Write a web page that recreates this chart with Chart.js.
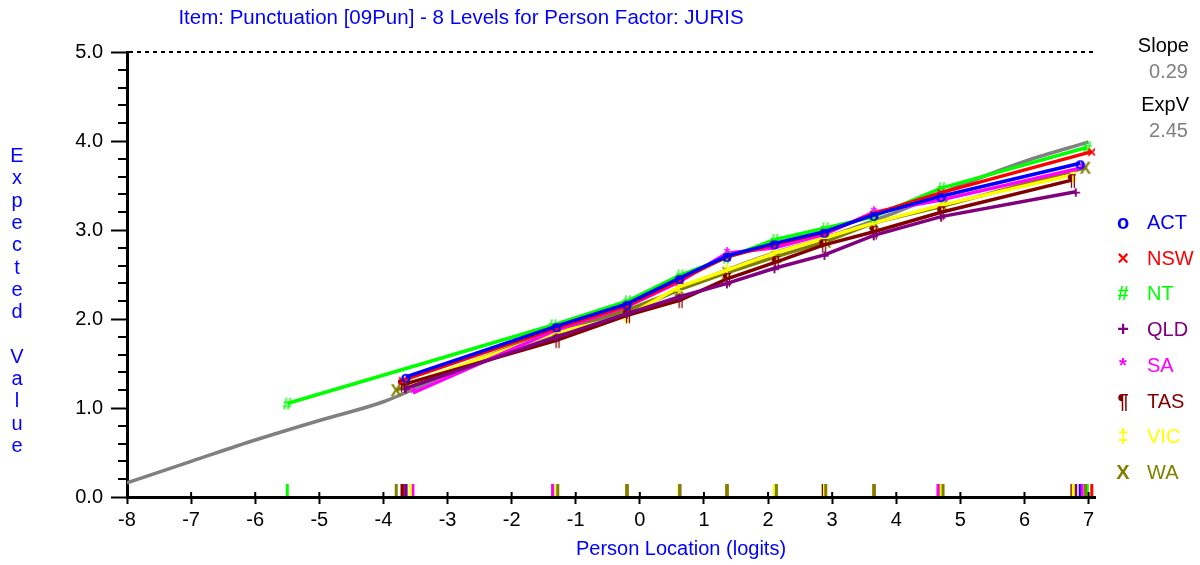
<!DOCTYPE html>
<html>
<head>
<meta charset="utf-8">
<script src="https://cdn.jsdelivr.net/npm/chart.js@4.4.1/dist/chart.umd.min.js"></script>
<style>
body { margin: 0; background: #fff; font-family: "Liberation Sans", Arial, sans-serif; }
#wrap { position: relative; width: 1200px; height: 565px; overflow: hidden; }
.txt { position: absolute; white-space: nowrap; font-size: 20px; line-height: 20px; }
.blue { color: #0000ff; }
.center { transform: translate(-50%, -50%); }
</style>
</head>
<body>
<div id="wrap">
    <canvas id="dif" width="1200" height="565"></canvas>
    <div class="txt blue center" style="left:461px; top:17px; font-size:20.5px;">Item: Punctuation [09Pun] - 8 Levels for Person Factor: JURIS</div>
    <div class="txt blue center" style="left:681px; top:548px;">Person Location (logits)</div>
    <div id="ytitle"></div>
    <div class="txt" style="right:11px; top:35px; color:#000;">Slope</div>
    <div class="txt" id="slope" style="right:12px; top:61px; color:#808080;"></div>
    <div class="txt" style="right:11px; top:94px; color:#000;">ExpV</div>
    <div class="txt" id="expv" style="right:12px; top:120px; color:#808080;"></div>
    <div id="legend"></div>
</div>
<script>
// Groups of the person factor (JURIS)
const groups = ["ACT", "NSW", "NT", "QLD", "SA", "TAS", "VIC", "WA"];
const glyphs = ["o", "\u00d7", "#", "+", "*", "\u00b6", "\u2021", "X"];
const colors = ["#0000ff", "#ff0000", "#00ff00", "#800080", "#ff00ff", "#800000", "#ffff00", "#808000"];

const actX = [-3.65, -1.30, -0.20, 0.62, 1.36, 2.10, 2.88, 3.65, 4.70, 6.87];
const actY = [1.35, 1.92, 2.17, 2.46, 2.71, 2.85, 2.98, 3.17, 3.38, 3.75];
const nswX = [-3.70, -1.30, -0.20, 0.62, 1.36, 2.10, 2.88, 3.65, 4.70, 7.05];
const nswY = [1.31, 1.90, 2.15, 2.44, 2.70, 2.84, 2.97, 3.18, 3.42, 3.88];
const ntX = [-5.50, -1.36, -0.20, 0.62, 1.36, 2.10, 2.88, 3.65, 4.70, 6.98];
const ntY = [1.05, 1.93, 2.20, 2.49, 2.69, 2.89, 3.02, 3.15, 3.47, 3.93];
const qldX = [-3.65, -1.30, -0.20, 0.62, 1.36, 2.10, 2.88, 3.65, 4.70, 6.80];
const qldY = [1.22, 1.80, 2.06, 2.25, 2.40, 2.57, 2.72, 2.94, 3.15, 3.43];
const saX = [-3.54, -1.36, -0.20, 0.62, 1.36, 2.10, 2.88, 3.65, 4.65, 6.90];
const saY = [1.17, 1.86, 2.14, 2.42, 2.74, 2.80, 2.95, 3.20, 3.33, 3.70];
const tasX = [-3.71, -1.30, -0.20, 0.62, 1.36, 2.12, 2.86, 3.65, 4.70, 6.74];
const tasY = [1.26, 1.76, 2.04, 2.21, 2.45, 2.64, 2.83, 2.98, 3.20, 3.56];
const vicX = [-3.58, -1.30, -0.20, 0.61, 1.36, 2.10, 2.88, 3.65, 4.70, 6.76];
const vicY = [1.28, 1.85, 2.03, 2.36, 2.55, 2.74, 2.91, 3.08, 3.28, 3.62];
const waX = [-3.80, -1.28, -0.20, 0.62, 1.36, 2.13, 2.90, 3.65, 4.73, 6.95];
const waY = [1.20, 1.88, 2.10, 2.33, 2.52, 2.70, 2.87, 3.08, 3.27, 3.70];

// Expected value curve (grey)
const iccX = [-8, -7, -6, -5, -4, -3, -2, -1, 0, 1, 2, 3, 4, 5, 6, 7];
const iccY = [0.16, 0.40, 0.64, 0.86, 1.07, 1.38, 1.65, 1.91, 2.14, 2.45, 2.72, 2.94, 3.20, 3.50, 3.77, 3.99];

const xTicks = [-8, -7, -6, -5, -4, -3, -2, -1, 0, 1, 2, 3, 4, 5, 6, 7];
const yTicks = [0, 1, 2, 3, 4, 5];
const slope = "0.29";
const expV = "2.45";

const seriesX = [actX, nswX, ntX, qldX, saX, tasX, vicX, waX];
const seriesY = [actY, nswY, ntY, qldY, saY, tasY, vicY, waY];

const FONT = "'Liberation Sans', Arial, sans-serif";

// Marker glyph drawn to a small canvas so it can be used as a pointStyle
function glyphCanvas(ch, color) {
    const c = document.createElement("canvas");
    c.width = 18;
    c.height = 20;
    const g = c.getContext("2d");
    g.font = "bold 17px " + FONT;
    g.fillStyle = color;
    g.textAlign = "center";
    g.textBaseline = "middle";
    g.fillText(ch, 9, 11);
    return c;
}

// Side texts
document.getElementById("slope").textContent = slope;
document.getElementById("expv").textContent = expV;

const ytitle = document.getElementById("ytitle");
"Expected Value".split("").forEach((ch, i) => {
    const d = document.createElement("div");
    d.className = "txt blue center";
    d.style.left = "17px";
    d.style.top = (155 + i * 22.3) + "px";
    d.textContent = ch;
    ytitle.appendChild(d);
});

const legend = document.getElementById("legend");
groups.forEach((name, i) => {
    const y = 222 + i * 35.7;
    const sym = document.createElement("div");
    sym.className = "txt center";
    sym.style.left = "1123px";
    sym.style.top = y + "px";
    sym.style.color = colors[i];
    sym.style.fontWeight = "bold";
    sym.textContent = glyphs[i];
    legend.appendChild(sym);

    const lab = document.createElement("div");
    lab.className = "txt";
    lab.style.left = "1147px";
    lab.style.top = (y - 10) + "px";
    lab.style.color = colors[i];
    lab.textContent = name;
    legend.appendChild(lab);
});

// Datasets
const datasets = groups.map((name, i) => ({
    label: name,
    data: seriesX[i].map((x, j) => ({ x: x, y: seriesY[i][j] })),
    borderColor: colors[i],
    backgroundColor: colors[i],
    borderWidth: 3.5,
    tension: 0,
    pointStyle: glyphCanvas(glyphs[i], colors[i]),
    pointRadius: 8,
    order: 0
}));

datasets.push({
    label: "Expected",
    data: iccX.map((x, j) => ({ x: x, y: iccY[j] })),
    borderColor: "#808080",
    borderWidth: 3.5,
    pointRadius: 0,
    cubicInterpolationMode: "monotone",
    order: 1
});

// Extra axis bits: dashed max line, minor ticks, rug of class interval locations
const axisExtras = {
    id: "axisExtras",
    beforeDatasetsDraw(chart) {
        const { ctx, chartArea, scales } = chart;
        const y5 = Math.round(scales.y.getPixelForValue(5));
        ctx.save();
        ctx.strokeStyle = "#000";
        ctx.lineWidth = 2;
        ctx.setLineDash([4, 4]);
        ctx.beginPath();
        ctx.moveTo(chartArea.left + 2, y5);
        ctx.lineTo(chartArea.right, y5);
        ctx.stroke();
        ctx.restore();
    },
    afterDatasetsDraw(chart) {
        const { ctx, scales } = chart;
        const y0 = scales.y.getPixelForValue(0);
        ctx.save();
        ctx.lineWidth = 3;
        seriesX.forEach((xs, i) => {
            ctx.strokeStyle = colors[i];
            xs.forEach(x => {
                const px = scales.x.getPixelForValue(x);
                ctx.beginPath();
                ctx.moveTo(px, y0 - 13);
                ctx.lineTo(px, y0 - 1);
                ctx.stroke();
            });
        });
        ctx.restore();
    },
    afterDraw(chart) {
        const { ctx, chartArea, scales } = chart;
        ctx.save();
        ctx.strokeStyle = "#000";
        ctx.lineWidth = 2;
        // minor y ticks every 0.2
        for (let k = 1; k < 25; k++) {
            if (k % 5 === 0) continue;
            const py = Math.round(scales.y.getPixelForValue(k / 5));
            ctx.beginPath();
            ctx.moveTo(chartArea.left - 9, py);
            ctx.lineTo(chartArea.left, py);
            ctx.stroke();
        }
        // x ticks cross the axis line
        const y0 = scales.y.getPixelForValue(0);
        xTicks.forEach(v => {
            const px = scales.x.getPixelForValue(v);
            ctx.beginPath();
            ctx.moveTo(px, y0 - 5);
            ctx.lineTo(px, y0);
            ctx.stroke();
        });
        ctx.restore();
    }
};

new Chart(document.getElementById("dif").getContext("2d"), {
    type: "line",
    data: { datasets },
    plugins: [axisExtras],
    options: {
        responsive: false,
        animation: false,
        layout: { padding: { top: 52, right: 105, bottom: 0, left: 0 } },
        plugins: {
            legend: { display: false },
            tooltip: { enabled: false },
            title: { display: false }
        },
        scales: {
            x: {
                type: "linear",
                min: -8,
                max: 7.1,
                afterBuildTicks: scale => { scale.ticks = xTicks.map(v => ({ value: v })); },
                afterFit: scale => { scale.height = 68; },
                grid: { drawOnChartArea: false, tickLength: 7, tickWidth: 2, tickColor: "#000" },
                border: { display: true, color: "#000", width: 3 },
                ticks: {
                    autoSkip: false,
                    maxRotation: 0,
                    padding: 4,
                    color: "#000",
                    font: { family: FONT, size: 20 }
                }
            },
            y: {
                type: "linear",
                min: 0,
                max: 5,
                afterBuildTicks: scale => { scale.ticks = yTicks.map(v => ({ value: v })); },
                afterFit: scale => { scale.width = 127; },
                grid: { drawOnChartArea: false, tickLength: 16, tickWidth: 2, tickColor: "#000" },
                border: { display: true, color: "#000", width: 3 },
                ticks: {
                    autoSkip: false,
                    padding: 8,
                    color: "#000",
                    font: { family: FONT, size: 20 },
                    callback: v => v.toFixed(1)
                }
            }
        }
    }
});
</script>
</body>
</html>
